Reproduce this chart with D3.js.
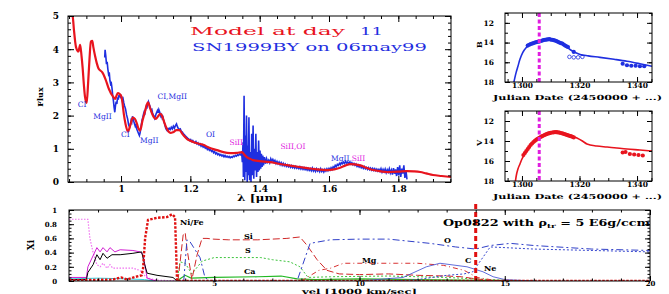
<!DOCTYPE html>
<html>
<head>
<meta charset="utf-8">
<script src="https://cdn.jsdelivr.net/npm/d3@7"></script>
<style>
  body { margin: 0; background: #fff; }
  svg { display: block; }
  text { font-family: "DejaVu Serif", serif; }
</style>
</head>
<body>
<svg id="fig" width="669" height="294"></svg>
<script>
// ---- spectrum: model (red) and SN1999BY observed (blue), [lambda in micron, flux]
const modelSpec = [[0.850,5.4],[0.856,5.1],[0.861,4.95],[0.864,4.6],[0.870,4.07],[0.877,3.93],[0.882,4.13],[0.886,3.8],[0.889,3.47],
  [0.893,2.9],[0.896,2.57],[0.901,2.38],[0.905,2.98],[0.909,3.7],[0.913,4.23],[0.917,4.25],[0.920,4.07],[0.925,3.8],[0.930,3.58],
  [0.935,3.42],[0.939,3.37],[0.946,3.3],[0.955,3.1],[0.965,2.8],[0.977,2.57],[0.983,2.5],[0.987,2.6],[0.991,2.68],[0.996,2.65],
  [1.000,2.6],[1.004,2.4],[1.008,2.05],[1.013,1.75],[1.020,1.52],[1.027,1.72],[1.034,1.94],[1.040,1.9],[1.046,1.75],[1.050,1.62],
  [1.055,1.55],[1.062,1.85],[1.069,2.12],[1.074,2.32],[1.078,2.4],[1.083,2.25],[1.090,2.05],[1.095,1.95],[1.100,1.9],[1.107,1.98],
  [1.113,2.05],[1.118,2.0],[1.124,1.82],[1.130,1.65],[1.137,1.52],[1.143,1.48],[1.150,1.5],[1.160,1.56],[1.168,1.56],[1.179,1.42],
  [1.190,1.3],[1.200,1.24],[1.215,1.18],[1.237,1.12],[1.255,1.03],[1.277,0.96],[1.295,0.9],[1.315,0.87],[1.335,0.88],[1.349,0.9],
  [1.356,0.82],[1.363,0.75],[1.372,0.7],[1.381,0.66],[1.400,0.63],[1.430,0.6],[1.455,0.55],[1.479,0.51],[1.510,0.46],[1.537,0.42],
  [1.565,0.38],[1.594,0.36],[1.615,0.38],[1.632,0.43],[1.648,0.5],[1.661,0.54],[1.675,0.53],[1.690,0.5],[1.710,0.42],[1.727,0.36],
  [1.750,0.32],[1.768,0.3],[1.800,0.31],[1.825,0.33],[1.845,0.32],[1.863,0.3],[1.880,0.26],[1.900,0.21],[1.925,0.18],[1.952,0.15]]

const obsSpec = [[0.953,3.75],[0.954,3.98],[0.956,3.8],[0.958,3.55],[0.960,3.62],[0.962,3.4],[0.964,3.25],[0.966,3.3],[0.968,3.05],
  [0.970,2.95],[0.972,2.98],[0.974,2.82],[0.976,2.6],[0.978,2.45],[0.980,2.25],[0.982,2.1],[0.984,2.3],[0.986,2.42],[0.988,2.35],
  [0.990,2.55],[0.992,2.48],[0.994,2.62],[0.996,2.55],[0.998,2.65],[1.000,2.52],[1.002,2.58],[1.004,2.45],[1.006,2.5],[1.008,2.38],
  [1.010,2.3],[1.013,2.2],[1.016,2.02],[1.019,1.9],[1.022,1.72],[1.025,1.65],[1.027,1.72],[1.029,1.85],[1.031,1.8],[1.033,1.98],
  [1.035,1.9],[1.037,1.82],[1.039,1.75],[1.041,1.68],[1.043,1.72],[1.045,1.6],[1.047,1.55],[1.049,1.5],[1.051,1.45],[1.053,1.4],
  [1.055,1.48],[1.057,1.62],[1.059,1.75],[1.061,1.88],[1.063,1.95],[1.065,2.05],[1.067,2.12],[1.069,2.08],[1.071,2.2],[1.073,2.28],
  [1.075,2.25],[1.077,2.36],[1.079,2.42],[1.081,2.35],[1.083,2.3],[1.085,2.22],[1.087,2.15],[1.089,2.18],[1.091,2.08],[1.093,2.02],
  [1.095,1.98],[1.097,1.92],[1.099,1.98],[1.101,2.05],[1.103,2.1],[1.105,2.15],[1.107,2.08],[1.109,2.18],[1.111,2.12],[1.113,2.05],
  [1.115,1.98],[1.117,2.02],[1.119,1.92],[1.121,1.95],[1.123,1.85],[1.125,1.78],[1.127,1.7],[1.129,1.62],[1.131,1.58],[1.133,1.55],
  [1.135,1.6],[1.137,1.58],[1.139,1.62],[1.142,1.58],[1.145,1.65],[1.148,1.6],[1.151,1.68],[1.154,1.62],[1.157,1.7],[1.160,1.75],
  [1.162,1.68],[1.165,1.62],[1.168,1.58],[1.171,1.6],[1.174,1.52],[1.177,1.5],[1.180,1.45],[1.183,1.42],[1.186,1.38],[1.189,1.35],
  [1.192,1.32],[1.195,1.3],[1.198,1.25],[1.201,1.28],[1.204,1.22],[1.207,1.25],[1.210,1.2],[1.213,1.18],[1.216,1.22],[1.219,1.15],
  [1.222,1.18],[1.225,1.12],[1.228,1.15],[1.231,1.08],[1.234,1.12],[1.237,1.05],[1.240,1.08],[1.243,1.02],[1.246,1.05],[1.249,0.98],
  [1.252,1.02],[1.255,0.95],[1.258,0.98],[1.261,0.92],[1.264,0.95],[1.267,0.88],[1.270,0.92],[1.273,0.85],[1.276,0.88],[1.279,0.82],
  [1.282,0.85],[1.285,0.8],[1.288,0.83],[1.291,0.78],[1.294,0.81],[1.297,0.76],[1.300,0.8],[1.303,0.75],[1.306,0.78],[1.309,0.74],
  [1.312,0.77],[1.315,0.73],[1.318,0.76],[1.321,0.74],[1.324,0.78],[1.327,0.76],[1.330,0.8],[1.333,0.78],[1.336,0.82],[1.339,0.8],
  [1.342,0.84],[1.345,0.82],[1.348,0.88],[1.350,0.6],[1.352,1.2],[1.353,0.15],[1.355,2.6],[1.357,0.05],[1.359,1.4],[1.360,0.3],
  [1.362,2.0],[1.364,0.0],[1.366,1.1],[1.367,0.2],[1.369,1.95],[1.371,0.05],[1.373,0.9],[1.375,0.0],[1.377,1.45],[1.379,0.2],
  [1.381,1.7],[1.383,0.1],[1.385,1.0],[1.387,0.35],[1.389,1.45],[1.391,0.15],[1.393,0.9],[1.395,0.3],[1.397,1.25],[1.399,0.35],
  [1.401,0.95],[1.403,0.4],[1.405,0.85],[1.407,0.45],[1.409,0.8],[1.411,0.5],[1.414,0.75],[1.417,0.55],[1.420,0.7],[1.423,0.6],
  [1.426,0.66],[1.429,0.58],[1.432,0.7],[1.435,0.62],[1.438,0.68],[1.441,0.6],[1.444,0.65],[1.447,0.56],[1.450,0.62],[1.453,0.55],
  [1.456,0.6],[1.459,0.52],[1.462,0.58],[1.465,0.5],[1.468,0.56],[1.471,0.49],[1.474,0.54],[1.477,0.47],[1.480,0.52],[1.483,0.46],
  [1.486,0.5],[1.489,0.44],[1.492,0.49],[1.495,0.43],[1.498,0.48],[1.501,0.42],[1.504,0.47],[1.507,0.41],[1.510,0.45],[1.513,0.4],
  [1.516,0.46],[1.519,0.39],[1.522,0.44],[1.525,0.38],[1.528,0.43],[1.531,0.37],[1.534,0.42],[1.537,0.36],[1.540,0.41],[1.543,0.35],
  [1.546,0.4],[1.549,0.34],[1.552,0.42],[1.555,0.33],[1.558,0.39],[1.561,0.32],[1.564,0.4],[1.567,0.33],[1.570,0.38],[1.573,0.31],
  [1.576,0.4],[1.579,0.32],[1.582,0.37],[1.585,0.3],[1.588,0.38],[1.591,0.33],[1.594,0.4],[1.597,0.34],[1.600,0.41],[1.603,0.36],
  [1.606,0.43],[1.609,0.38],[1.612,0.46],[1.615,0.42],[1.618,0.5],[1.621,0.46],[1.624,0.53],[1.627,0.5],[1.630,0.56],[1.633,0.52],
  [1.636,0.58],[1.639,0.55],[1.642,0.6],[1.645,0.56],[1.648,0.62],[1.651,0.57],[1.654,0.6],[1.657,0.55],[1.660,0.6],[1.663,0.54],
  [1.666,0.58],[1.669,0.52],[1.672,0.56],[1.675,0.5],[1.678,0.54],[1.681,0.47],[1.684,0.51],[1.687,0.45],[1.690,0.49],[1.693,0.43],
  [1.696,0.47],[1.699,0.41],[1.702,0.46],[1.705,0.4],[1.708,0.44],[1.711,0.38],[1.714,0.43],[1.717,0.37],[1.720,0.42],[1.723,0.36],
  [1.726,0.41],[1.729,0.35],[1.732,0.4],[1.735,0.34],[1.738,0.39],[1.741,0.33],[1.744,0.38],[1.747,0.32],[1.750,0.4],[1.753,0.3],
  [1.756,0.38],[1.759,0.31],[1.762,0.39],[1.765,0.28],[1.768,0.37],[1.771,0.3],[1.774,0.4],[1.777,0.27],[1.780,0.36],[1.783,0.22],
  [1.786,0.42],[1.789,0.25],[1.792,0.38],[1.795,0.18],[1.798,0.45],[1.801,0.2],[1.804,0.5],[1.807,0.15],[1.810,0.4],[1.813,0.25],
  [1.816,0.5],[1.819,0.12],[1.822,0.35],[1.825,0.08]]

// line identifications: [text, lambda, flux, colour]
const lineIds = [['CI',0.875,2.25,'blue'],['MgII',0.92,1.9,'blue'],['CI',1.0,1.35,'blue'],['MgII',1.055,1.17,'blue'],
  ['CI,MgII',1.105,2.5,'blue'],['OI',1.245,1.35,'blue'],['SiII',1.313,1.1,'mag'],['SiII,OI',1.46,1.0,'mag']]

// ---- light curves (JD - 2450000, magnitude)
const bModelJD  = [1297.0,1297.5,1298.0,1298.6,1299.3,1300.3,1301.5,1302.8,1304.5,1306.3,1308.0,1309.5,1311.0,1313.2,1315.0,1316.7,1318.5,1320.2,1323,1327.1,1332,1336.5,1341,1345.2]
const bModelMag = [18.3,17.6,17.0,16.4,15.7,15.0,14.5,14.2,14.0,13.85,13.7,13.65,13.7,14.0,14.35,14.7,15.0,15.2,15.35,15.5,15.7,15.9,16.15,16.4]
const bObsJD  = [1302,1302.5,1303,1303.5,1304,1304.5,1305,1305.5,1306,1306.5,1307,1307.5,1308,1308.5,1309,1309.5,1310,1310.5,1311,1311.5,1312,1312.5,1313,1313.5,1314,1314.5,1315,1315.5,1316,1318,1335,1336.5,1338,1339.5,1341,1342.5]
const bObsMag = [14.3,14.22,14.15,14.1,14.05,14.0,13.95,13.92,13.9,13.85,13.8,13.75,13.72,13.7,13.68,13.66,13.7,13.72,13.75,13.8,13.85,13.92,14.0,14.05,14.1,14.2,14.3,14.38,14.45,14.95,16.15,16.3,16.35,16.35,16.4,16.4]
const bOpenJD  = [1316.5,1318,1319.5,1321]
const bOpenMag = [15.45,15.5,15.5,15.45]

const vModelJD  = [1297.6,1298.0,1298.6,1299.3,1300.0,1301.0,1301.7,1302.8,1303.8,1305.0,1306.3,1308.5,1310.8,1313.0,1315.7,1317.5,1319.1,1321,1322.6,1326,1329.6,1333,1336.5,1341,1345.2]
const vModelMag = [18.3,17.5,16.8,16.3,15.8,15.3,15.0,14.55,14.1,13.85,13.6,13.3,13.1,13.15,13.3,13.5,13.7,14.0,14.3,14.5,14.6,14.7,14.8,14.9,15.0]
const vObsJD  = [1300.5,1301,1301.5,1302,1302.5,1303,1303.5,1304,1304.5,1305,1305.5,1306,1306.5,1307,1307.5,1308,1308.5,1309,1309.5,1310,1310.5,1311,1311.5,1312,1312.5,1313,1313.5,1314,1314.5,1315,1315.5,1316,1316.5,1317,1317.5,1318,1335,1336,1337.5,1339,1340.5,1342]
const vObsMag = [15.4,15.2,15.0,14.8,14.6,14.4,14.25,14.1,13.98,13.87,13.78,13.68,13.6,13.52,13.45,13.38,13.32,13.27,13.22,13.18,13.15,13.13,13.12,13.12,13.14,13.16,13.2,13.24,13.28,13.33,13.38,13.43,13.48,13.52,13.58,13.64,15.15,15.1,15.3,15.35,15.4,15.45]
const markJD = 1306

// ---- abundances vs velocity (1000 km/s), [v, X]
const abPink  = [[0,0.87],[0.65,0.87],[0.72,0.6],[0.83,0.4],[0.96,0.23],[1.07,0.2],[1.17,0.25],[1.31,0.18],[1.41,0.23],[1.51,0.18],[1.76,0.18],[2.2,0.18],[2.44,0.15],[2.69,0.04],[3.1,0.01],[4,0]]
const abMag   = [[0,0.05],[0.6,0.05],[0.65,0.2],[0.96,0.47],[1.07,0.41],[1.17,0.47],[1.31,0.41],[1.41,0.47],[1.58,0.41],[1.76,0.44],[2.2,0.43],[2.44,0.41],[2.55,0.37],[2.69,0.04],[3.0,0]]
const abBlack = [[0,0.02],[0.6,0.02],[0.65,0.12],[0.83,0.23],[0.96,0.37],[1.07,0.3],[1.17,0.39],[1.31,0.32],[1.48,0.37],[1.76,0.37],[2.2,0.39],[2.5,0.41],[2.58,0.27],[2.69,0.11],[3.03,0.08],[3.58,0.05],[3.72,0]]
const abCyan  = [[0,0.03],[1,0.04],[2,0.03],[2.6,0.02],[3,0]]
const abNiFe  = [[0,0.01],[1.5,0.02],[1.8,0.05],[2.0,0.02],[2.3,0.06],[2.5,0.08],[2.55,0.18],[2.62,0.6],[2.72,0.86],[3.03,0.89],[3.37,0.9],[3.55,0.94],[3.65,0.9],[3.72,0],[20,0]]
const abSi    = [[3.75,0],[3.93,0.65],[4.0,0.68],[4.06,0.46],[4.23,0.02],[4.41,0.37],[4.58,0.6],[4.75,0.6],[4.96,0.59],[5.5,0.58],[6.5,0.58],[7.5,0.6],[7.95,0.62],[8.2,0.5],[8.54,0.3],[8.88,0.15],[9.3,0.1],[10,0.09],[11,0.1],[12,0.08],[13,0.07],[13.5,0.06],[14,0.03],[14.5,0.01],[15,0]]
const abO     = [[3.95,0],[4.06,0.58],[4.17,0.55],[4.51,0.33],[4.68,0.05],[4.85,0],[7.85,0],[8.3,0.53],[8.99,0.58],[10,0.59],[11,0.59],[12.43,0.53],[13.3,0.48],[14.0,0.45],[14.5,0.5],[15.2,0.53],[16,0.5],[18,0.45],[20,0.43]]
const abS     = [[3.72,0],[3.82,0.27],[4.0,0.25],[4.23,0.1],[4.58,0.28],[5.0,0.33],[6.6,0.33],[7.0,0.3],[7.6,0.27],[7.95,0.2],[8.23,0.05],[9,0.06],[11,0.07],[13,0.05],[14,0.03],[15,0.01]]
const abCa    = [[3.72,0],[3.85,0.04],[4.0,0.08],[4.2,0.04],[5,0.05],[6.5,0.06],[7.3,0.07],[7.85,0.03],[8.5,0.02],[10,0.03],[12,0.02],[14,0.01],[16,0]]
const abMg    = [[8.0,0],[8.6,0.15],[9.0,0.18],[9.45,0.25],[11.3,0.25],[12.0,0.25],[12.9,0.22],[13.6,0.15],[14.05,0.05],[14.5,0.02]]
const abC     = [[11,0],[12,0.02],[13,0.08],[13.6,0.1],[13.9,0.13],[14.5,0.48],[16,0.45],[20,0.41]]
const abNe    = [[10,0],[11.5,0.05],[12.3,0.2],[12.77,0.25],[13.7,0.2],[14.25,0.13],[14.6,0.06],[15,0.02],[16,0]]
const shellVel = 14

const RED = '#e8141e', BLUE = '#1f2fe0', MAGENTA = '#e01ee0'

const svg = d3.select('#fig')

// draws a boxed frame with inward ticks on all four sides
function frame(g, x, y, o) {
  const [x0, x1] = x.range()
  const [y0, y1] = y.range()
  const top = Math.min(y0, y1), bot = Math.max(y0, y1)
  const font = g => g.selectAll('text').attr('font-size', o.fs).attr('font-weight', 'bold').attr('fill', '#000')
  const clean = g => g.call(g => g.select('.domain').remove()).selectAll('line').attr('stroke', '#000')

  g.append('g').attr('transform', `translate(0,${bot})`)
    .call(d3.axisBottom(x).tickValues(o.xMajor).tickSize(-o.big).tickPadding(o.xPad).tickFormat(o.xFmt))
    .call(clean).call(font)
  g.append('g').attr('transform', `translate(0,${bot})`)
    .call(d3.axisBottom(x).tickValues(o.xMinor).tickSize(-o.small).tickFormat('')).call(clean)
  g.append('g').attr('transform', `translate(0,${top})`)
    .call(d3.axisTop(x).tickValues(o.xMajor).tickSize(-o.big).tickFormat('')).call(clean)
  g.append('g').attr('transform', `translate(0,${top})`)
    .call(d3.axisTop(x).tickValues(o.xMinor).tickSize(-o.small).tickFormat('')).call(clean)

  g.append('g').attr('transform', `translate(${x0},0)`)
    .call(d3.axisLeft(y).tickValues(o.yMajor).tickSize(-o.big).tickPadding(o.yPad).tickFormat(o.yFmt))
    .call(clean).call(font)
  g.append('g').attr('transform', `translate(${x0},0)`)
    .call(d3.axisLeft(y).tickValues(o.yMinor).tickSize(-o.small).tickFormat('')).call(clean)
  g.append('g').attr('transform', `translate(${x1},0)`)
    .call(d3.axisRight(y).tickValues(o.yMajor).tickSize(-o.big).tickFormat('')).call(clean)
  g.append('g').attr('transform', `translate(${x1},0)`)
    .call(d3.axisRight(y).tickValues(o.yMinor).tickSize(-o.small).tickFormat('')).call(clean)

  g.append('rect').attr('x', x0).attr('y', top).attr('width', x1 - x0).attr('height', bot - top)
    .attr('fill', 'none').attr('stroke', '#000').attr('stroke-width', 1)
}

function clip(id, x, y) {
  const [x0, x1] = x.range()
  const [y0, y1] = y.range()
  svg.append('clipPath').attr('id', id).append('rect')
    .attr('x', x0).attr('y', Math.min(y0, y1)).attr('width', x1 - x0).attr('height', Math.abs(y0 - y1))
  return `url(#${id})`
}

function range(a, b, s) { return d3.range(a, b + s / 2, s).map(v => +v.toFixed(4)) }

// wide, Hershey-like text: stretch glyphs to the measured width
function wide(sel, len) { return sel.attr('textLength', len).attr('lengthAdjust', 'spacingAndGlyphs') }

// ================= spectrum panel =================
const xs = d3.scaleLinear().domain([0.847, 1.952]).range([68, 451])
const ys = d3.scaleLinear().domain([0, 5]).range([182, 16])
const spec = svg.append('g')
const specClip = clip('clipSpec', xs, ys)
const specLine = d3.line().x(d => xs(d[0])).y(d => ys(d[1]))

spec.append('path').datum(obsSpec).attr('clip-path', specClip)
  .attr('fill', 'none').attr('stroke', BLUE).attr('stroke-width', 1.6).attr('d', specLine)
spec.append('path').datum(modelSpec).attr('clip-path', specClip)
  .attr('fill', 'none').attr('stroke', RED).attr('stroke-width', 2.2).attr('stroke-linejoin', 'round')
  .attr('d', specLine.curve(d3.curveMonotoneX))

frame(spec, xs, ys, {
  xMajor: [1, 1.2, 1.4, 1.6, 1.8], xMinor: range(0.85, 1.95, 0.05), xFmt: d3.format('~g'),
  yMajor: [0, 1, 2, 3, 4, 5], yMinor: range(0, 5, 0.2), yFmt: d3.format('d'),
  big: 6, small: 3, xPad: 4, yPad: 9, fs: 9
})

spec.selectAll('text.ids').data(lineIds).join('text').attr('class', 'ids')
  .attr('x', d => xs(d[1])).attr('y', d => ys(d[2]))
  .attr('font-size', 7.5).attr('fill', d => d[3] === 'blue' ? BLUE : MAGENTA)
  .text(d => d[0])
const mgsi = spec.append('text').attr('x', 331).attr('y', 161).attr('font-size', 7.5)
mgsi.append('tspan').attr('fill', BLUE).text('MgII,')
mgsi.append('tspan').attr('fill', MAGENTA).text('SiII')

wide(spec.append('text').attr('x', 190).attr('y', 35).attr('font-size', 11).attr('fill', RED), 155).text('Model at day')
wide(spec.append('text').attr('x', 360).attr('y', 35).attr('font-size', 11).attr('fill', BLUE), 23).text('11')
wide(spec.append('text').attr('x', 192).attr('y', 51).attr('font-size', 11).attr('fill', BLUE), 235).text('SN1999BY on 06may99')

wide(spec.append('text').attr('x', 237).attr('y', 201).attr('font-size', 9).attr('font-weight', 'bold'), 46).text('λ [μm]')
spec.append('text').attr('transform', 'translate(43,97) rotate(-90)').attr('text-anchor', 'middle')
  .attr('font-size', 8).attr('font-weight', 'bold').text('Flux')

// ================= light curves =================
function lightCurve(top, bottom, label, modelJD, modelMag, obsJD, obsMag, col, xlabY) {
  const x = d3.scaleLinear().domain([1294.1, 1345.2]).range([505, 652])
  const y = d3.scaleLinear().domain([18, 11]).range([bottom, top])
  const g = svg.append('g')
  const cp = clip('clip' + label, x, y)
  const pts = modelJD.map((d, i) => [d, modelMag[i]])
  g.append('path').datum(pts).attr('clip-path', cp).attr('fill', 'none').attr('stroke', col)
    .attr('stroke-width', 1.6).attr('d', d3.line().x(d => x(d[0])).y(d => y(d[1])).curve(d3.curveMonotoneX))
  g.selectAll('circle.obs').data(obsJD).join('circle').attr('class', 'obs')
    .attr('cx', d => x(d)).attr('cy', (d, i) => y(obsMag[i])).attr('r', 2.1).attr('fill', col)
  g.append('line').attr('x1', x(markJD)).attr('x2', x(markJD)).attr('y1', top).attr('y2', bottom)
    .attr('stroke', MAGENTA).attr('stroke-width', 3).attr('stroke-dasharray', '4,2.5')
  frame(g, x, y, {
    xMajor: [1300, 1320, 1340], xMinor: range(1295, 1345, 5), xFmt: d3.format('d'),
    yMajor: [12, 14, 16, 18], yMinor: range(11, 18, 1), yFmt: d3.format('d'),
    big: 5, small: 3, xPad: 1, yPad: 11, fs: 7.5
  })
  g.append('text').attr('transform', `translate(482,${y(14) + 2}) rotate(-90)`).attr('text-anchor', 'middle')
    .attr('font-size', 8).attr('font-weight', 'bold').text(label)
  wide(g.append('text').attr('x', 493).attr('y', xlabY).attr('font-size', 7).attr('font-weight', 'bold'), 169)
    .text('Julian Date (2450000 + ...)')
  return { g, x, y }
}

const bPanel = lightCurve(13, 82, 'B', bModelJD, bModelMag, bObsJD, bObsMag, BLUE, 100)
bPanel.g.selectAll('circle.open').data(bOpenJD).join('circle').attr('class', 'open')
  .attr('cx', d => bPanel.x(d)).attr('cy', (d, i) => bPanel.y(bOpenMag[i])).attr('r', 1.8)
  .attr('fill', 'none').attr('stroke', BLUE).attr('stroke-width', 0.8)
lightCurve(111, 181, 'V', vModelJD, vModelMag, vObsJD, vObsMag, RED, 199)

// ================= abundance panel =================
const xv = d3.scaleLinear().domain([0, 20]).range([69, 650])
const yv = d3.scaleLinear().domain([0, 1]).range([281, 210])
const ab = svg.append('g')
const abClip = clip('clipAb', xv, yv)
const abLine = d3.line().x(d => xv(d[0])).y(d => yv(d[1]))

const species = [
  [abCyan, '#30d0e0', 1, null],
  [abPink, '#f070f0', 1.2, '1.5,1.5'],
  [abMag, '#d21ed2', 1, null],
  [abBlack, '#000', 1, null],
  [abCa, '#22b822', 1.2, null],
  [abS, '#3cc43c', 1, '2,2'],
  [abSi, '#d02828', 1, '7,3'],
  [abO, '#3040c8', 1, '7,3,2,3'],
  [abMg, '#d83030', 1, '5,3,1,3'],
  [abC, '#3848d0', 1, '2,2'],
  [abNe, '#3848d0', 0.8, null],
  [abNiFe, '#e01010', 2.4, '2.5,1.5']
]
ab.selectAll('path.sp').data(species).join('path').attr('class', 'sp').attr('clip-path', abClip)
  .attr('fill', 'none').attr('stroke', d => d[1]).attr('stroke-width', d => d[2])
  .attr('stroke-dasharray', d => d[3]).attr('d', d => abLine(d[0]))

ab.append('line').attr('x1', xv(shellVel)).attr('x2', xv(shellVel)).attr('y1', 204).attr('y2', yv(0))
  .attr('stroke', '#e01010').attr('stroke-width', 3).attr('stroke-dasharray', '5,3')

frame(ab, xv, yv, {
  xMajor: [5, 10, 15, 20], xMinor: range(0, 20, 1), xFmt: d3.format('d'),
  yMajor: [0, 0.2, 0.4, 0.6, 0.8, 1], yMinor: range(0, 1, 0.05), yFmt: d3.format('~g'),
  big: 5, small: 2.5, xPad: 0, yPad: 12, fs: 7
})

const abLabels = [['Ni/Fe', 180, 225], ['Si', 244, 239], ['S', 245, 253], ['Ca', 244, 274],
  ['Mg', 362, 263], ['O', 444, 243], ['C', 465, 263], ['Ne', 484, 271]]
ab.selectAll('text.lab').data(abLabels).join('text').attr('class', 'lab')
  .attr('x', d => d[1]).attr('y', d => d[2])
  .attr('font-size', 8).attr('font-weight', 'bold').text(d => d[0])

const note = wide(ab.append('text').attr('x', 443).attr('y', 226).attr('font-size', 8.5).attr('font-weight', 'bold'), 207)
note.append('tspan').text('Op0822 with ρ')
note.append('tspan').attr('font-size', 6).attr('dy', 2).text('tr')
note.append('tspan').attr('dy', -2).text(' = 5 E6g/ccm')

ab.append('text').attr('transform', 'translate(34,245) rotate(-90)').attr('text-anchor', 'middle')
  .attr('font-size', 9).attr('font-weight', 'bold').text('Xi')
wide(ab.append('text').attr('x', 302).attr('y', 293.5).attr('font-size', 7).attr('font-weight', 'bold'), 115)
  .text('vel [1000 km/sec]')
</script>
</body>
</html>
